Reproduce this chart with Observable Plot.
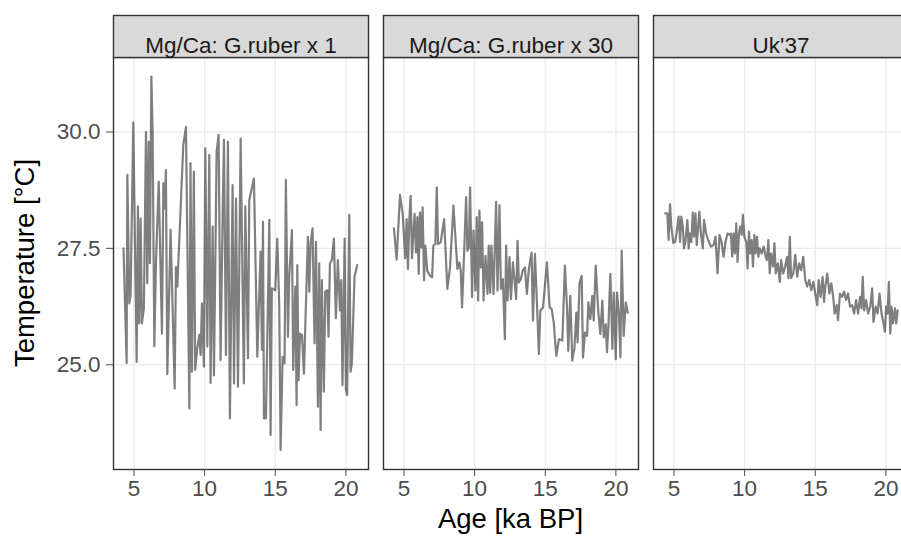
<!DOCTYPE html>
<html>
<head>
<meta charset="utf-8">
<script src="https://cdn.jsdelivr.net/npm/d3@7"></script>
<script src="https://cdn.jsdelivr.net/npm/@observablehq/plot@0.6"></script>
<style>
  html, body { margin: 0; padding: 0; background: white; overflow: hidden; }
  #chart { width: 901px; height: 540px; overflow: hidden; }
</style>
</head>
<body>
<div id="chart"></div>
<script>
const proxies = ["Mg/Ca: G.ruber x 1", "Mg/Ca: G.ruber x 30", "Uk'37"];
const xTicks = [5, 10, 15, 20];
const yTicks = [25, 27.5, 30];
const xTitle = "Age [ka BP]";
const yTitle = "Temperature [°C]";

const age1 = [4.26,4.48,4.53,4.67,4.76,4.95,5.19,5.28,5.37,5.47,5.56,5.70,5.85,5.94,6.04,6.13,6.23,6.32,6.44,6.56,6.75,6.98,7.08,7.17,7.26,7.36,7.59,7.88,7.97,8.07,8.49,8.68,8.92,9.00,9.10,9.24,9.33,9.48,9.62,9.72,9.81,9.95,10.05,10.19,10.33,10.42,10.57,10.66,10.85,10.99,11.13,11.28,11.37,11.51,11.65,11.79,11.98,12.08,12.22,12.36,12.55,
  12.78,12.88,13.07,13.16,13.49,13.73,13.96,14.06,14.13,14.20,14.34,14.58,14.67,14.76,15.00,15.14,15.28,15.38,15.52,15.66,15.75,15.90,15.99,16.18,16.27,16.42,16.51,16.56,16.65,16.75,16.89,17.03,17.31,17.41,17.50,17.64,17.78,17.88,18.02,18.11,18.21,18.30,18.44,18.54,18.68,18.77,18.87,19.01,19.15,19.29,19.43,19.58,19.67,19.76,19.91,20.00,20.09,20.24,20.33,20.42,20.61,20.80];
const temp1 = [27.50,25.04,29.08,26.32,26.50,30.20,25.06,28.40,25.89,28.14,25.89,26.21,30.00,26.75,29.79,27.18,31.19,29.97,25.40,27.25,28.93,25.67,28.90,28.36,29.18,24.80,27.90,24.49,27.10,26.68,29.72,30.11,24.06,29.33,24.85,29.15,24.89,25.35,25.64,25.21,26.32,24.96,29.65,25.39,29.51,24.61,27.97,24.77,29.58,29.94,25.10,28.29,29.83,25.21,29.79,23.85,28.86,24.60,28.57,24.53,29.86,
  24.60,28.40,25.14,28.54,29.00,25.17,27.43,25.32,28.07,23.85,23.85,28.11,23.49,26.64,26.60,27.71,26.32,23.17,25.17,25.03,28.97,25.60,26.89,27.89,24.89,26.68,24.13,27.14,24.67,25.67,25.64,24.81,27.75,26.57,27.61,27.93,25.46,27.64,24.10,27.18,23.60,26.82,24.42,26.57,26.60,25.60,27.18,27.25,27.71,26.00,27.25,26.17,26.82,24.56,27.71,24.46,24.35,28.22,24.85,25.03,26.89,27.14];

const age2 = [4.29,4.48,4.72,4.91,5.09,5.19,5.28,5.38,5.47,5.57,5.66,5.75,5.85,5.95,6.04,6.13,6.23,6.32,6.42,6.51,6.65,6.84,6.99,7.08,7.22,7.32,7.41,7.60,7.84,8.07,8.26,8.50,8.78,8.92,9.02,9.11,9.21,9.40,9.49,9.59,9.68,9.82,9.92,10.06,10.15,10.25,10.34,10.44,10.53,10.63,10.77,10.91,11.00,11.10,11.19,11.34,11.52,11.62,11.76,11.86,12.00,12.14,12.23,12.33,12.47,12.57,12.71,12.80,12.94,13.04,13.13,13.27,13.41,13.56,13.70,13.84,14.03,14.13,14.27,14.41,14.55,14.65,14.84,15.12,15.31,15.45,15.60,15.78,15.97,16.21,16.39,16.54,16.63,16.77,16.91,17.06,17.20,17.29,17.43,17.58,17.67,17.81,17.96,18.05,18.19,18.33,18.43,18.57,18.76,18.90,19.04,19.14,19.28,19.37,19.47,19.61,19.75,19.85,19.99,20.08,20.22,20.32,20.41,20.55,20.70,20.84];
const temp2 = [27.93,27.26,28.65,28.24,27.29,28.13,27.06,28.13,28.63,27.29,27.81,28.24,27.41,28.17,26.95,28.27,27.52,28.38,26.81,27.56,27.02,26.91,26.88,27.56,27.59,28.81,27.59,27.63,28.13,26.63,27.09,28.42,27.06,27.20,27.02,26.23,27.02,28.60,27.45,27.52,28.81,26.45,27.88,26.59,28.17,26.38,28.31,27.09,28.06,26.38,27.34,26.52,27.56,26.55,27.56,26.52,28.50,26.59,28.43,26.63,26.84,25.55,27.56,26.38,27.31,26.41,27.20,26.91,26.41,27.66,26.77,26.84,27.02,27.09,26.52,27.06,27.41,25.95,27.38,26.34,25.23,26.16,26.23,27.20,26.23,26.20,25.91,25.19,25.55,25.52,27.13,26.23,25.30,26.48,25.09,25.34,26.12,25.48,26.77,26.91,25.16,25.69,25.62,26.34,25.98,26.48,25.95,27.13,26.12,25.66,26.38,25.59,25.87,25.27,25.84,26.95,25.34,26.55,25.12,26.55,26.05,25.16,27.45,25.62,26.34,26.12];

const age3 = [4.38,4.53,4.62,4.72,4.81,4.95,5.09,5.24,5.33,5.43,5.52,5.62,5.71,5.81,5.95,6.04,6.14,6.23,6.33,6.42,6.52,6.61,6.71,6.80,6.90,7.04,7.13,7.27,7.42,7.61,7.80,7.94,8.08,8.22,8.36,8.51,8.65,8.79,8.93,9.03,9.12,9.22,9.31,9.41,9.50,9.60,9.69,9.79,9.88,9.98,10.12,10.21,10.31,10.40,10.50,10.59,10.69,10.78,10.88,10.97,11.07,11.21,11.35,11.49,11.59,11.68,11.78,11.87,12.01,12.11,12.20,12.35,12.49,12.58,12.73,12.87,13.01,13.10,13.20,13.29,13.44,13.58,13.72,13.86,14.00,14.15,14.29,14.43,14.57,14.72,14.86,15.00,15.14,15.24,15.38,15.52,15.62,15.71,15.85,16.00,16.14,16.28,16.37,16.52,16.61,16.75,16.90,17.04,17.18,17.32,17.46,17.61,17.75,17.89,18.03,18.17,18.27,18.36,18.46,18.60,18.74,18.89,19.03,19.12,19.27,19.41,19.55,19.69,19.83,19.93,20.02,20.12,20.21,20.31,20.40,20.50,20.64,20.73,20.83];
const temp3 = [28.25,28.25,27.68,28.45,27.97,27.62,27.64,27.97,28.18,27.64,28.18,27.97,27.50,27.64,28.11,27.50,27.82,27.64,28.27,27.75,28.25,27.57,27.97,28.29,27.82,27.50,28.11,27.82,27.68,27.54,27.57,27.75,26.96,27.79,27.64,27.32,27.64,27.82,27.79,27.82,27.32,27.82,27.39,28.04,27.21,27.82,27.97,27.79,28.22,27.75,27.64,27.07,27.86,27.39,27.68,27.11,27.79,27.39,27.75,27.32,27.50,27.39,27.54,27.32,27.25,27.68,26.96,27.39,27.11,27.61,26.96,27.18,26.78,27.25,26.96,27.11,27.32,26.86,27.75,26.86,26.96,27.36,26.89,27.18,27.03,27.32,26.82,26.68,26.82,26.60,26.78,26.53,26.28,26.82,26.46,26.89,26.35,26.68,26.96,26.53,26.75,26.43,26.10,26.28,25.96,26.53,26.46,26.57,26.39,26.53,26.25,26.28,26.10,26.39,26.10,26.46,26.21,26.89,26.17,26.39,26.10,26.25,26.64,25.92,26.25,26.10,26.53,26.10,25.89,25.71,26.25,26.10,26.78,25.67,26.25,25.89,26.21,25.89,26.17];

const ages = [age1, age2, age3];
const temps = [temp1, temp2, temp3];
const rows = proxies.flatMap((p, i) =>
  ages[i].slice(0, Math.min(ages[i].length, temps[i].length)).map((a, j) => ({proxy: p, age: a, temp: temps[i][j]})));

const W = 908, H = 540, mT = 57, mB = 71, mL = 113, mR = 0;
const font = "'Liberation Sans', Arial, Helvetica, sans-serif";

const svg = Plot.plot({
  width: W, height: H,
  marginTop: mT, marginBottom: mB, marginLeft: mL, marginRight: mR,
  style: {fontFamily: font, background: "white", overflow: "visible"},
  fx: {domain: proxies, paddingInner: 0.0556, paddingOuter: 0, axis: null, label: null},
  x: {domain: [3.55, 21.6], label: null},
  y: {domain: [22.75, 31.6], label: null},
  marks: [
    Plot.gridX(xTicks, {stroke: "#EBEBEB", strokeOpacity: 1, strokeWidth: 1.4}),
    Plot.gridY(yTicks, {stroke: "#EBEBEB", strokeOpacity: 1, strokeWidth: 1.4}),
    Plot.line(rows, {fx: "proxy", x: "age", y: "temp", stroke: "black", strokeOpacity: 0.5, strokeWidth: 2.2}),
    Plot.frame({stroke: "#333333", strokeWidth: 1.4}),
    Plot.frame({fill: "#D9D9D9", stroke: "#333333", strokeWidth: 1.4, insetTop: -42, insetBottom: H - mT - mB}),
    Plot.text(proxies, {fx: d => d, text: d => d, frameAnchor: "top", dy: -20, fontSize: 22.5, fill: "#1A1A1A"}),
    Plot.axisX(xTicks, {tickSize: 7, tickPadding: 4, fontSize: 22.5, color: "#4D4D4D", label: null}),
    Plot.axisY(yTicks, {tickSize: 7, tickPadding: 6, fontSize: 22.5, color: "#4D4D4D", tickFormat: d => d.toFixed(1), label: null})
  ]
});
svg.style.maxWidth = "none";
svg.style.width = W + "px";
svg.style.height = H + "px";

const s = d3.select(svg);
s.append("text")
  .attr("x", (mL + W - mR) / 2).attr("y", 528)
  .attr("text-anchor", "middle")
  .style("font-family", font).style("font-size", "27.5px").attr("fill", "black")
  .text(xTitle);
s.append("text")
  .attr("transform", `translate(34,${(mT + H - mB) / 2}) rotate(-90)`)
  .attr("text-anchor", "middle")
  .style("font-family", font).style("font-size", "27.5px").attr("fill", "black")
  .text(yTitle);

document.getElementById("chart").appendChild(svg);
</script>
</body>
</html>
